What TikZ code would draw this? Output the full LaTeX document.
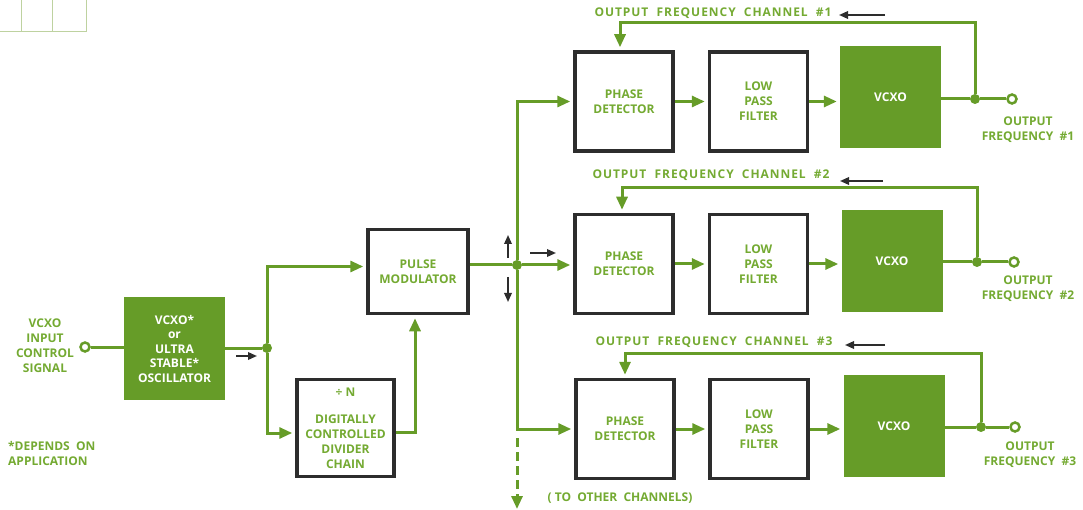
\documentclass[tikz,border=0pt]{standalone}
\usepackage{fontspec}
\setmainfont{Open Sans}
\newfontfamily\boxfont{Open Sans}
\newfontfamily\titlefont{Open Sans}[LetterSpace=8]
\usepackage{tikz}
\usetikzlibrary{arrows.meta, positioning}

\definecolor{sigGreen}{RGB}{102,156,40}
\definecolor{txtGreen}{RGB}{116,170,50}
\definecolor{boxGray}{RGB}{45,45,45}
\definecolor{gridGreen}{RGB}{190,210,160}

\begin{document}
\begin{tikzpicture}[
        x=1pt, y=-1pt,
        block/.style={draw=boxGray, line width=3.5pt, fill=white, minimum width=98pt, minimum height=99pt, inner sep=0pt, align=center, text=txtGreen, font=\boxfont\bfseries\fontsize{12}{15}\selectfont},
        greenblock/.style={fill=sigGreen, minimum width=101pt, minimum height=102pt, inner sep=0pt, align=center, text=white, font=\boxfont\bfseries\fontsize{12}{14.5}\selectfont},
        txt/.style={text=txtGreen, align=center, inner sep=0pt, font=\boxfont\bfseries\fontsize{12}{15}\selectfont},
        chtitle/.style={text=txtGreen, inner sep=0pt, font=\titlefont\bfseries\fontsize{12}{14}\selectfont},
        joint/.style={circle, fill=sigGreen, inner sep=0pt, minimum size=10pt},
        term/.style={circle, draw=sigGreen, line width=2.5pt, fill=white, inner sep=0pt, minimum size=9pt},
        wire/.style={draw=sigGreen, line width=3pt},
        arrow/.style={wire, -{Triangle[length=13pt,width=11pt]}, shorten >=3pt},
        dirarrow/.style={draw=boxGray, line width=1.8pt, -{Triangle[length=9pt,width=7.5pt]}},
        gridline/.style={draw=gridGreen, line width=1pt}
    ]
        \useasboundingbox (0, 0) rectangle (1083, 510);

        % Page grid
        \draw [gridline] (0, 32) -- (86, 32) -- (86, 0) (21, 0) -- (21, 32) (52, 0) -- (52, 32);

        % Input side
        \node (inlbl) [txt] at (45, 346) {VCXO\\INPUT\\CONTROL\\SIGNAL};
        \node (incirc) [term] at (85, 347) {};
        \node (osc) [greenblock] at (174.5, 348.5) {VCXO*\\or\\ULTRA\\STABLE*\\OSCILLATOR};
        \node (note) [txt, anchor=west, align=left] at (8, 453) {*DEPENDS\ \ ON\\APPLICATION};
        \node (j1) [joint] at (267, 348) {};

        % Modulator and divider
        \node (pm) [block, minimum width=100pt, minimum height=84pt] at (418, 271.5) {PULSE\\MODULATOR};
        \node (div) [block, minimum width=97pt, minimum height=97pt] at (345.5, 428) {÷ N\\[12pt]DIGITALLY\\CONTROLLED\\DIVIDER\\CHAIN};
        \node (j2) [joint] at (517, 265) {};
        \coordinate (dash1) at (517, 438);
        \coordinate (more) at (517, 509);
        \node (other) [txt] at (620, 498) {(\ TO\ \ OTHER\ \ CHANNELS)};

        % Channel 1
        \node (ttl1) [chtitle] at (713, 13) {OUTPUT\ \ FREQUENCY\ \ CHANNEL\ \ \#1};
        \node (pd1) [block] at (624, 101.5) {PHASE\\DETECTOR};
        \node (lpf1) [block] at (758.5, 101.5) {LOW\\PASS\\FILTER};
        \node (vc1) [greenblock] at (890.5, 97) {VCXO};
        \node (jo1) [joint] at (975, 99) {};
        \node (out1) [term] at (1012, 99) {};
        \node (olbl1) [txt] at (1028, 130) {OUTPUT\\FREQUENCY\ \ \#1};
        \coordinate (fb1) at (620, 23);

        % Channel 2
        \node (ttl2) [chtitle] at (711, 175) {OUTPUT\ \ FREQUENCY\ \ CHANNEL\ \ \#2};
        \node (pd2) [block] at (624, 264) {PHASE\\DETECTOR};
        \node (lpf2) [block] at (758.5, 264) {LOW\\PASS\\FILTER};
        \node (vc2) [greenblock] at (892, 261) {VCXO};
        \node (jo2) [joint] at (977, 262) {};
        \node (out2) [term] at (1014, 262) {};
        \node (olbl2) [txt] at (1028, 289) {OUTPUT\\FREQUENCY\ \ \#2};
        \coordinate (fb2) at (622, 188);

        % Channel 3
        \node (ttl3) [chtitle] at (714, 342) {OUTPUT\ \ FREQUENCY\ \ CHANNEL\ \ \#3};
        \node (pd3) [block] at (625, 429) {PHASE\\DETECTOR};
        \node (lpf3) [block] at (759, 429) {LOW\\PASS\\FILTER};
        \node (vc3) [greenblock] at (894, 426) {VCXO};
        \node (jo3) [joint] at (981, 427) {};
        \node (out3) [term] at (1015, 427) {};
        \node (olbl3) [txt] at (1030, 455) {OUTPUT\\FREQUENCY\ \ \#3};
        \coordinate (fb3) at (625, 353);

        % Input connections
        \draw [wire] (incirc) -- (incirc -| osc.west);
        \draw [wire] (osc.east |- j1) -- (j1);
        \draw [arrow] (j1) |- ([yshift=5pt]pm.west);
        \draw [arrow] (j1) |- ([yshift=-5pt]div.west);
        \draw [arrow] ([yshift=-4pt]div.east) -| ([xshift=-3pt]pm.south);

        % Distribution bus
        \draw [wire] (pm.east |- j2) -- (j2);
        \draw [arrow] (j2) |- (pd1.west);
        \draw [arrow] (j2) -- (j2 -| pd2.west);
        \draw [arrow] (j2) |- (pd3.west);
        \draw [arrow, shorten >=0pt, dash pattern=on 9pt off 5pt] (dash1) -- (more);

        % Channel loops
        \draw [arrow] (pd1.east) -- (lpf1.west);
        \draw [arrow] (lpf1.east) -- (lpf1.east -| vc1.west);
        \draw [wire] (vc1.east |- jo1) -- (jo1) -- (out1);
        \draw [arrow] (jo1) |- (fb1) -- (fb1 |- pd1.north);

        \draw [arrow] (pd2.east) -- (lpf2.west);
        \draw [arrow] (lpf2.east) -- (lpf2.east -| vc2.west);
        \draw [wire] (vc2.east |- jo2) -- (jo2) -- (out2);
        \draw [arrow] (jo2) |- (fb2) -- (fb2 |- pd2.north);

        \draw [arrow] (pd3.east) -- (lpf3.west);
        \draw [arrow] (lpf3.east) -- (lpf3.east -| vc3.west);
        \draw [wire] (vc3.east |- jo3) -- (jo3) -- (out3);
        \draw [arrow] (jo3) |- (fb3) -- (fb3 |- pd3.north);

        % Signal direction marks
        \draw [dirarrow] (236, 356) -- (257, 356);
        \draw [dirarrow] (508, 258) -- (508, 235);
        \draw [dirarrow] (508, 277) -- (508, 302);
        \draw [dirarrow] (530, 253) -- (556, 253);
        \draw [dirarrow] (885, 15) -- (839, 15);
        \draw [dirarrow] (883, 181) -- (840, 181);
        \draw [dirarrow] (885, 345) -- (845, 345);
    \end{tikzpicture}
\end{document}
